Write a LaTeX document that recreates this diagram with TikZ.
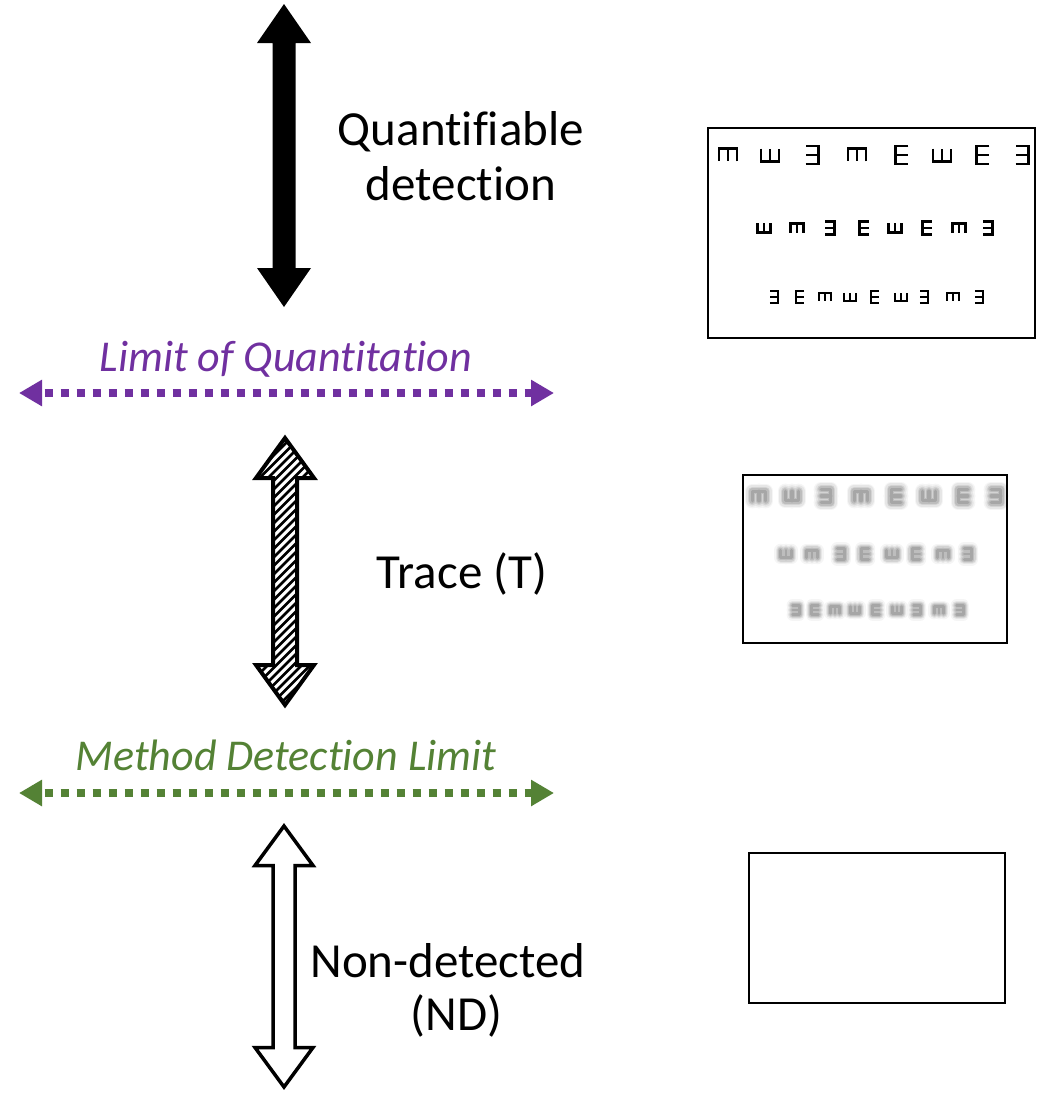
\documentclass[tikz,border=0pt]{standalone}
\usepackage{fontspec}
\setmainfont{Carlito}[Ligatures=NoCommon]
\usetikzlibrary{arrows.meta}

\definecolor{loqpurple}{HTML}{7030A0}
\definecolor{mdlgreen}{HTML}{548235}

% vertical double arrow outline: x, y-top, y-bottom, head length, head half-width, shaft half-width
\newcommand\vdarrow[6]{%
  (#1,#2) -- ({#1+#5},{#2+#4}) -- ({#1+#6},{#2+#4}) -- ({#1+#6},{#3-#4})
  -- ({#1+#5},{#3-#4}) -- (#1,#3) -- ({#1-#5},{#3-#4}) -- ({#1-#6},{#3-#4})
  -- ({#1-#6},{#2+#4}) -- ({#1-#5},{#2+#4}) -- cycle}

% tumbling-E optotype: x, y, rotation, height, stroke width
\newcommand\optoshape{(0.35,-0.5) -- (-0.35,-0.5) -- (-0.35,0.5) -- (0.35,0.5) (-0.35,0) -- (0.35,0)}
\newcommand\tumE[5]{%
  \draw[black, line width=#5, line join=miter, shift={(#1,#2)}, rotate=#3, scale=#4] \optoshape;}
% the same optotype, out of focus
\newcommand\blurE[5]{%
  \begin{scope}[shift={(#1,#2)}, rotate=#3, scale=#4, line cap=round, line join=round]
    \draw[black, opacity=0.04, line width=5.5*#5] \optoshape;
    \draw[black, opacity=0.06, line width=4.3*#5] \optoshape;
    \draw[black, opacity=0.08, line width=3.2*#5] \optoshape;
    \draw[black, opacity=0.10, line width=2.2*#5] \optoshape;
    \draw[black, opacity=0.12, line width=1.2*#5] \optoshape;
  \end{scope}}

\begin{document}
\begin{tikzpicture}[x=0.5pt, y=-0.5pt,
    label text/.style={font=\fontsize{24.5}{27.5}\selectfont, align=center, anchor=base},
    limit text/.style={font=\fontsize{22}{26}\selectfont\itshape, anchor=base},
    limit line/.style={line width=4pt, dash pattern=on 4pt off 4pt, dash phase=-2pt,
      {Triangle[length=11.5pt,width=12.5pt]}-{Triangle[length=11.5pt,width=12.5pt]}},
    chart box/.style={draw=black, line width=1pt},
    hatch/.style={black, line width=1.25pt}]

  \useasboundingbox[fill=white] (0,0) rectangle (1040,1094);

  % ---- quantifiable range ----
  \fill[black] \vdarrow{284}{4}{307}{39}{27}{11.5};
  \node[label text] (quant) at (461,200) {Quantif\kern0pt iable\\detection};

  % ---- limit of quantitation ----
  \node[limit text, text=loqpurple] (loqtext) at (286,371) {Limit of Quant\kern0pt itat\kern0pt ion};
  \coordinate (loqL) at (19,393);
  \coordinate (loqR) at (554,393);
  \draw[limit line, loqpurple] (loqL) -- (loqR);

  % ---- trace range (hatched arrow) ----
  \begin{scope}
    \clip \vdarrow{285}{438}{705}{40}{29}{12};
    \foreach \k in {0,...,44}
      \draw[hatch] (250,{785-\k*8.5}) -- ++(75,-75);
  \end{scope}
  \draw[black, line width=2pt, line join=miter] \vdarrow{285}{438}{705}{40}{29}{12};
  \node[label text] (trace) at (462,588) {Trace (T)};

  % ---- method detection limit ----
  \node[limit text, text=mdlgreen] (mdltext) at (286,770) {Method Detect\kern0pt ion Limit};
  \coordinate (mdlL) at (19,793);
  \coordinate (mdlR) at (554,793);
  \draw[limit line, mdlgreen] (mdlL) -- (mdlR);

  % ---- non-detected range ----
  \draw[black, fill=white, line width=1.75pt, line join=miter] \vdarrow{284}{826}{1087}{39.5}{29}{11};
  \node[label text, font=\fontsize{24.5}{26.5}\selectfont] (nd) at (448,1030) {Non-detected\\\hspace*{8.5pt}(ND)};

  % ---- sharp eye chart ----
  \draw[chart box] (708,128) rectangle (1035,338);
  \foreach \x/\r in {728/-90, 770/90, 812/180, 857/-90, 902/0, 942/90, 983/0, 1022/180}
    {\tumE{\x}{155}{\r}{18}{1.4pt}}
  \foreach \x/\r in {764/90, 797/-90, 830/180, 864/0, 895/90, 927/0, 959/-90, 988/180}
    {\tumE{\x}{228}{\r}{13}{1.15pt}}
  \foreach \x/\r in {774/180, 800/0, 825/-90, 850/90, 875/0, 901/90, 924/180, 953/-90, 979/180}
    {\tumE{\x}{297}{\r}{12}{1.05pt}}

  % ---- blurred eye chart ----
  \draw[chart box] (743,475) rectangle (1007,643);
  \foreach \x/\r in {759/-90, 792/90, 826/180, 861/-90, 896/0, 929/90, 963/0, 996/180}
    {\blurE{\x}{496}{\r}{13.5}{1.4pt}}
  \foreach \x/\r in {786/90, 812/-90, 841/180, 865/0, 892/90, 916/0, 943/-90, 968/180}
    {\blurE{\x}{554}{\r}{10.5}{1.2pt}}
  \foreach \x/\r in {796/180, 815/0, 835/-90, 855/90, 876/0, 897/90, 917/180, 939/-90, 960/180}
    {\blurE{\x}{610}{\r}{9.5}{1.1pt}}

  % ---- empty chart ----
  \draw[chart box, line width=1.4pt] (749,853) rectangle (1005,1003);
\end{tikzpicture}
\end{document}
